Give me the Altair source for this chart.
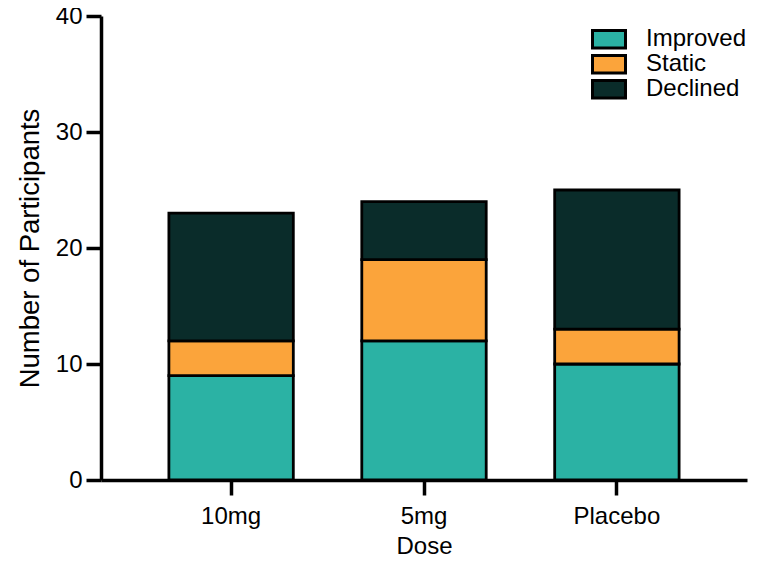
import altair as alt
import pandas as pd

doses = ["10mg", "5mg", "Placebo"]
outcomes = ["Improved", "Static", "Declined"]
improved = [9, 12, 10]
static = [3, 7, 3]
declined = [11, 5, 12]
colors = ["#2BB2A4", "#FBA43B", "#0A2C2A"]

rows = []
for i, d in enumerate(doses):
    for k, (name, vals) in enumerate(zip(outcomes, [improved, static, declined])):
        rows.append({"Dose": d, "Outcome": name, "Count": vals[i], "ord": k})
df = pd.DataFrame(rows)

FONT = "Liberation Sans"

chart = alt.Chart(df).mark_bar(stroke="black", strokeWidth=2.8).encode(
    x=alt.X("Dose:N", sort=doses,
            scale=alt.Scale(paddingInner=0.355, paddingOuter=0.352),
            axis=alt.Axis(title="Dose", labelAngle=0, tickSize=15, labelPadding=9,
                          titlePadding=6)),
    y=alt.Y("Count:Q", stack="zero",
            scale=alt.Scale(domain=[0, 40], nice=False),
            axis=alt.Axis(title="Number of Participants", values=[0, 10, 20, 30, 40],
                          tickSize=15, labelPadding=4, titlePadding=11, titleFontSize=27.5,
                          grid=False)),
    color=alt.Color("Outcome:N",
                    scale=alt.Scale(domain=outcomes, range=colors),
                    legend=alt.Legend(title=None, orient="none", legendX=488, legendY=11,
                                      symbolType="M-2,-1.05L2,-1.05L2,1.05L-2,1.05Z",
                                      symbolSize=272, symbolStrokeColor="black",
                                      symbolStrokeWidth=3, symbolOpacity=1,
                                      symbolOffset=8,
                                      labelFontSize=24, labelFont=FONT, labelColor="black",
                                      labelOffset=25, clipHeight=24.5, rowPadding=0,
                                      padding=0)),
    order=alt.Order("ord:Q", sort="ascending"),
).properties(
    width=646,
    height=464,
    autosize=alt.AutoSizeParams(type="none"),
    padding={"left": 93, "top": 8, "right": 4, "bottom": 83},
).configure_view(stroke=None).configure_axis(
    domainColor="black", domainWidth=3.5, tickColor="black", tickWidth=3.5,
    labelFont=FONT, labelFontSize=24, labelColor="black",
    titleFont=FONT, titleFontSize=24, titleColor="black", titleFontWeight="normal",
    grid=False,
)

chart.save("out.html", embed_options={"renderer": "svg", "actions": False})
